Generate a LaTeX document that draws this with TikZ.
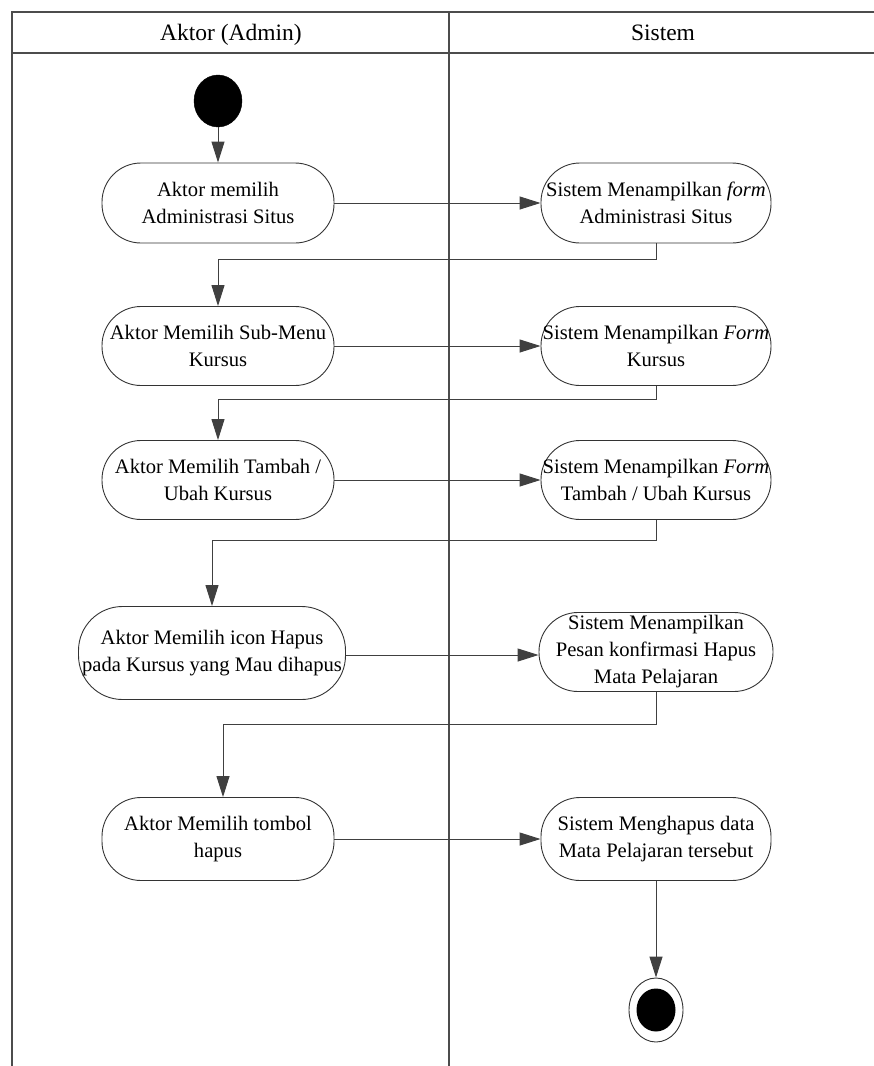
\documentclass[tikz,border=0pt]{standalone}
\usepackage{fontspec}
\setmainfont{Liberation Serif}
\usetikzlibrary{arrows.meta,shapes.geometric}
\begin{document}
\begin{tikzpicture}[x=1pt,y=-1pt,
  lane/.style={draw=black!70, line width=1.3pt},
  act/.style={draw=black!80, line width=0.9pt, rounded corners=39pt, align=center,
     font=\fontsize{20.6}{27}\selectfont, inner sep=0.5pt},
  flow/.style={draw=black!75, line width=1pt, -{Triangle[length=21pt,width=13pt]}},
  hdr/.style={font=\fontsize{23.5}{27}\selectfont, anchor=base}]
\useasboundingbox (0,0) rectangle (874,1066);
% swimlane frame
\draw[lane] (874,12) -- (12,12) -- (12,1066);
\draw[lane] (12,53) -- (874,53);
\draw[lane] (449,12) -- (449,1066);
\node[hdr] (h1) at (231,40) {Aktor (Admin)};
\node[hdr] (h2) at (663,40) {Sistem};
% start
\node[ellipse, draw, fill=black, minimum width=48pt, minimum height=52pt, inner sep=0pt] (start) at (218,101) {};
% actions
\node[act, minimum width=232pt, minimum height=80pt] (a1) at (218,203) {Aktor memilih\\Administrasi Situs};
\node[act, minimum width=230pt, minimum height=80pt] (s1) at (656,203) {Sistem Menampilkan \textit{form}\\Administrasi Situs};
\node[act, minimum width=232pt, minimum height=79pt] (a2) at (218,346) {Aktor Memilih Sub-Menu\\Kursus};
\node[act, minimum width=230pt, minimum height=79pt] (s2) at (656,346) {Sistem Menampilkan \textit{Form}\\Kursus};
\node[act, minimum width=232pt, minimum height=79pt] (a3) at (218,480) {Aktor Memilih Tambah /\\Ubah Kursus};
\node[act, minimum width=230pt, minimum height=79pt] (s3) at (656,480) {Sistem Menampilkan \textit{Form}\\Tambah / Ubah Kursus};
\node[act, rounded corners=44pt, minimum width=267pt, minimum height=93pt] (a4) at (212,653) {Aktor Memilih icon Hapus\\pada Kursus yang Mau dihapus};
\node[act, minimum width=234pt, minimum height=79pt] (s4) at (656,652) {Sistem Menampilkan\\Pesan konfirmasi Hapus\\Mata Pelajaran};
\node[act, minimum width=232pt, minimum height=83pt] (a5) at (218,839) {Aktor Memilih tombol\\hapus};
\node[act, minimum width=230pt, minimum height=83pt] (s5) at (656,839) {Sistem Menghapus data\\Mata Pelajaran tersebut};
% end
\node[ellipse, draw=black!80, line width=0.9pt, minimum width=54pt, minimum height=64pt, inner sep=0pt] (end) at (656,1010) {};
\node[ellipse, fill=black, minimum width=39pt, minimum height=43pt, inner sep=0pt] (endin) at (656,1010) {};
% flows
\draw[flow] (start) -- (a1);
\draw[flow] (a1) -- (s1);
\draw[flow] (s1.south) -- ++(0,16) -| (a2.north);
\draw[flow] (a2) -- (s2);
\draw[flow] (s2.south) -- ++(0,14) -| (a3.north);
\draw[flow] (a3) -- (s3);
\draw[flow] (s3.south) -- ++(0,21) -| (a4.north);
\draw[flow] (a4.east |- 0,655) -- (s4.west |- 0,655);
\draw[flow] (s4.south) -- ++(0,33) -| ([xshift=5pt]a5.north);
\draw[flow] (a5) -- (s5);
\draw[flow] (s5) -- (end);
\end{tikzpicture}
\end{document}
